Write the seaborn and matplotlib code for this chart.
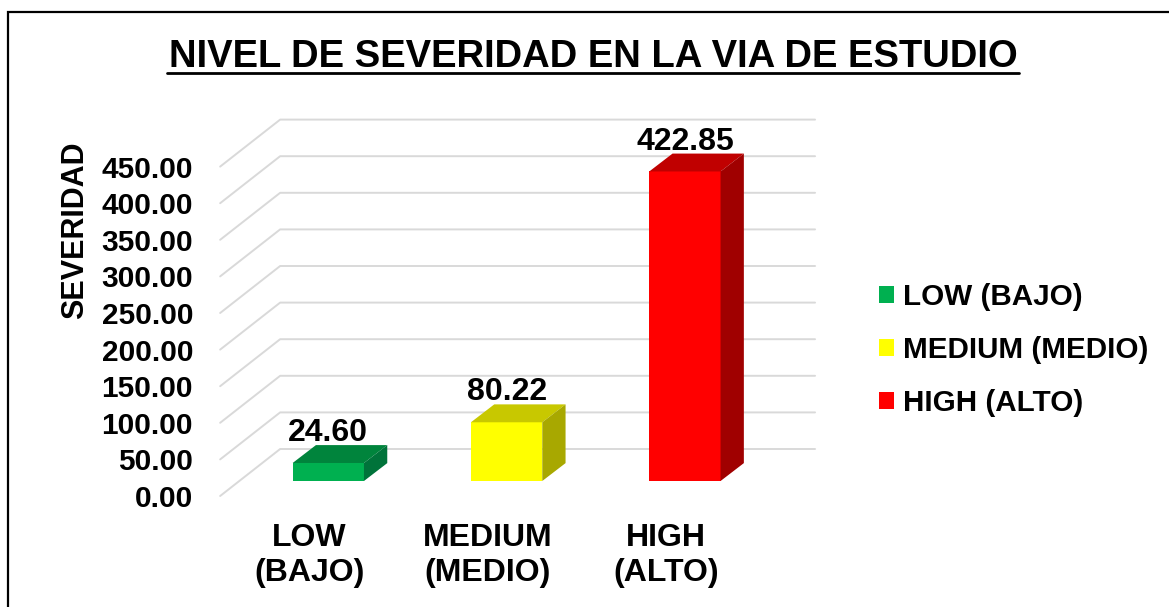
import matplotlib
matplotlib.use("Agg")
import matplotlib.pyplot as plt
import seaborn as sns
import pandas as pd
from matplotlib.patches import Polygon, Patch, Rectangle
from matplotlib.transforms import IdentityTransform, Affine2D
from matplotlib.lines import Line2D

# ---- data ----
categories = ["LOW\n(BAJO)", "MEDIUM\n(MEDIO)", "HIGH\n(ALTO)"]
legend_labels = ["LOW (BAJO)", "MEDIUM (MEDIO)", "HIGH (ALTO)"]
values = [24.60, 80.22, 422.85]
yticks = [0, 50, 100, 150, 200, 250, 300, 350, 400, 450]
front_colors = ["#00B050", "#FFFF00", "#FF0000"]
top_colors = ["#00843C", "#C8C800", "#C00000"]
side_colors = ["#00733A", "#A8A800", "#A00000"]
title = "NIVEL DE SEVERIDAD EN LA VIA DE ESTUDIO"
ylabel = "SEVERIDAD"

sns.set_style("white")
plt.rcParams["font.family"] = ["Liberation Sans", "DejaVu Sans"]
plt.rcParams["font.weight"] = "bold"
plt.rcParams["text.color"] = "black"
plt.rcParams["axes.labelcolor"] = "black"
plt.rcParams["xtick.color"] = "black"
plt.rcParams["ytick.color"] = "black"

W, H = 1169, 607
fig = plt.figure(figsize=(W / 100, H / 100), dpi=100)
fig.patch.set_facecolor("white")

# axes = front floor plane of the 3D chart
ax = fig.add_axes([220.15 / W, (H - 496) / H, 534.9 / W, 329.4 / H])
ax.set_xlim(-0.5, 2.5)
ax.set_ylim(0, 450)
ax.patch.set_alpha(0)
for s in ax.spines.values():
    s.set_visible(False)

df = pd.DataFrame({"cat": categories, "val": values})
sns.barplot(data=df, x="cat", y="val", hue="cat", palette=front_colors,
            saturation=1, width=0.4, legend=False, ax=ax, zorder=3,
            edgecolor="none")
ax.set_xlim(-0.5, 2.5)
ax.set_ylim(0, 450)

# offsets in pixels (display, y up) relative to front floor plane
FRONT = (19.0, 15.0)
BACK = (42.3, 32.9)
WALL = (60.0, 47.0)

def P(x, y, off):
    px, py = ax.transData.transform((x, y))
    return (px + off[0], py + off[1])

# gridlines: back wall + left side diagonals
for v in yticks:
    a = P(-0.5, v, WALL)
    b = P(2.5, v, WALL)
    c = P(-0.5, v, (0, 0))
    ax.add_line(Line2D([c[0], a[0], b[0]], [c[1], a[1], b[1]],
                       transform=IdentityTransform(), color="#D9D9D9",
                       lw=1.4, zorder=0, clip_on=False))

# 3D bars
shift = Affine2D().translate(*FRONT)
for i, p in enumerate(ax.patches):
    x0 = p.get_x()
    x1 = x0 + p.get_width()
    h = p.get_height()
    p.set_transform(ax.transData + shift)
    p.set_clip_on(False)
    top = [P(x0, h, FRONT), P(x1, h, FRONT), P(x1, h, BACK), P(x0, h, BACK)]
    side = [P(x1, 0, FRONT), P(x1, h, FRONT), P(x1, h, BACK), P(x1, 0, BACK)]
    ax.add_patch(Polygon(top, closed=True, transform=IdentityTransform(),
                         facecolor=top_colors[i], edgecolor="none",
                         zorder=4, clip_on=False))
    ax.add_patch(Polygon(side, closed=True, transform=IdentityTransform(),
                         facecolor=side_colors[i], edgecolor="none",
                         zorder=4, clip_on=False))
    ax.text(x0 + p.get_width() / 2, h, f"{values[i]:.2f}",
            transform=ax.transData + Affine2D().translate(FRONT[0], BACK[1] + 4),
            ha="center", va="baseline", fontsize=23, fontweight="bold",
            color="black", zorder=5, clip_on=False)

# axes ticks
ax.set_yticks(yticks)
ax.set_yticklabels([f"{v:.2f}" for v in yticks])
ax.tick_params(axis="y", length=0, pad=19.5, labelsize=21.5, labelcolor="black")
ax.tick_params(axis="x", length=0, pad=19.5, labelsize=23, labelcolor="black")
for lab in ax.get_xticklabels() + ax.get_yticklabels():
    lab.set_fontweight("bold")
ax.set_xlabel("")
ax.set_ylabel(ylabel, fontsize=22, fontweight="bold", color="black")
ax.yaxis.label.set_rotation_mode("default")
ax.yaxis.label.set_va("center")
ax.yaxis.set_label_coords(75 / W, (H - 230.5) / H, transform=fig.transFigure)

# legend
handles = [Patch(facecolor=c, edgecolor="none") for c in front_colors]
fig.legend(handles, legend_labels, loc="center left",
           bbox_to_anchor=(879 / W, (H - 350) / H), bbox_transform=fig.transFigure,
           frameon=False, handlelength=0.5, handleheight=0.5,
           handletextpad=0.3, labelspacing=0.85, borderpad=0, borderaxespad=0,
           prop={"weight": "bold", "size": 21.3}, labelcolor="black")

# title with underline
t = fig.text(593, H - 67, title, ha="center", va="baseline",
             fontsize=27.5, fontweight="bold", color="black",
             transform=IdentityTransform())
fig.canvas.draw()
bb = t.get_window_extent()
fig.add_artist(Line2D([bb.x0 - 2, bb.x1 + 2], [H - 73, H - 73],
                      transform=IdentityTransform(), color="black", lw=2.0))

# outer chart border (top and left visible)
fig.add_artist(Rectangle((8, -20), W + 40, H - 12 + 20, transform=IdentityTransform(),
                         fill=False, edgecolor="black", lw=1.6))

fig.savefig("out.png", dpi=100)
